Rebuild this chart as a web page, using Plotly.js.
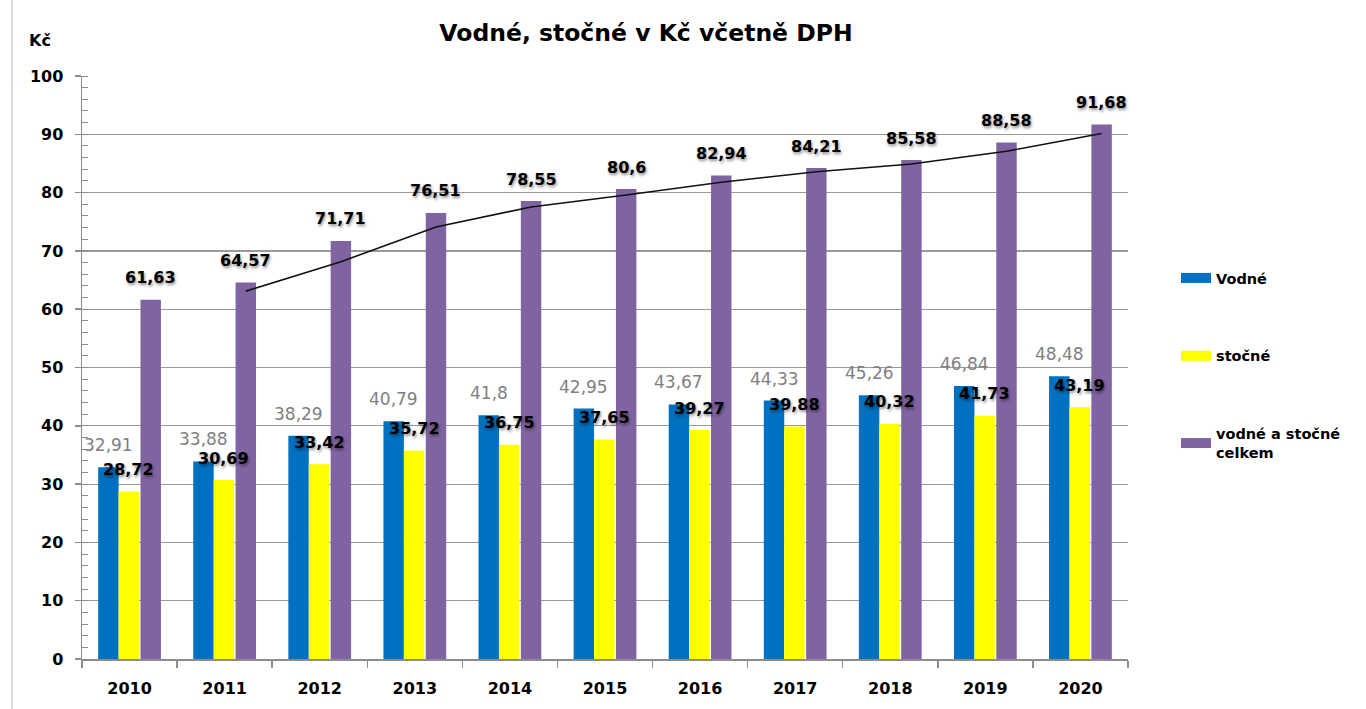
<!DOCTYPE html>
<html>
<head>
<meta charset="utf-8">
<script src="https://cdn.plot.ly/plotly-3.0.1.min.js"></script>
<style>
html,body{margin:0;padding:0;background:#fff;}
#chart{width:1366px;height:709px;}
</style>
</head>
<body>
<div id="chart"></div>
<script>
// ---- data ----
var years = [2010, 2011, 2012, 2013, 2014, 2015, 2016, 2017, 2018, 2019, 2020];
var vodne = [32.91, 33.88, 38.29, 40.79, 41.8, 42.95, 43.67, 44.33, 45.26, 46.84, 48.48];
var stocne = [28.72, 30.69, 33.42, 35.72, 36.75, 37.65, 39.27, 39.88, 40.32, 41.73, 43.19];
var celkem = [61.63, 64.57, 71.71, 76.51, 78.55, 80.6, 82.94, 84.21, 85.58, 88.58, 91.68];
// trend line (2-period moving average of total), years 2011-2020
var trendYears = [2011, 2012, 2013, 2014, 2015, 2016, 2017, 2018, 2019, 2020];
var trendVals = [63.10, 68.14, 74.11, 77.53, 79.58, 81.77, 83.58, 84.90, 87.08, 90.13];
var seriesNames = ['Vodné', 'stočné', 'vodné a stočné<br>celkem'];
var colors = ['#0070C0', '#FFFF00', '#8064A2'];

// ---- layout helpers ----
var BW = 0.215;
var offs = [-0.33, -0.115, 0.115];
function centerOf(k){ return offs[k] + BW/2; }
function fmt(v){ return String(v).replace('.', ','); }
var FONT = 'DejaVu Sans';

var traces = [];
var sets = [vodne, stocne, celkem];
for (var k = 0; k < 3; k++) {
  traces.push({
    type: 'bar', x: years, y: sets[k], width: BW, offset: offs[k],
    marker: {color: colors[k], line: {width: 0}},
    showlegend: false, hoverinfo: 'skip'
  });
}
traces.push({
  type: 'scatter', mode: 'lines',
  x: trendYears.map(function(y){ return y + centerOf(2); }),
  y: trendVals,
  line: {color: '#111111', width: 1.6},
  showlegend: false, hoverinfo: 'skip'
});
// legend entries
for (var k = 0; k < 3; k++) {
  traces.push({
    type: 'scatter', mode: 'lines', x: [null], y: [null],
    name: seriesNames[k], legendgroup: 'g' + k,
    line: {color: colors[k], width: 10}
  });
}

var annotations = [];
var shadowStyle = '1px 2px 3px rgba(0,0,0,0.45)';
for (var i = 0; i < years.length; i++) {
  annotations.push({
    x: years[i] + centerOf(0), y: vodne[i], xref: 'x', yref: 'y',
    text: fmt(vodne[i]), showarrow: false, yanchor: 'middle', yshift: 22,
    font: {family: FONT, size: 17, color: '#7f7f7f'}
  });
  annotations.push({
    x: years[i] + centerOf(1), y: stocne[i], xref: 'x', yref: 'y',
    text: fmt(stocne[i]), showarrow: false, yanchor: 'middle', yshift: 22,
    font: {family: FONT, size: 16, color: '#000', weight: 'bold', shadow: shadowStyle}
  });
  annotations.push({
    x: years[i] + centerOf(2), y: celkem[i], xref: 'x', yref: 'y',
    text: fmt(celkem[i]), showarrow: false, yanchor: 'middle', yshift: 22,
    font: {family: FONT, size: 16, color: '#000', weight: 'bold', shadow: shadowStyle}
  });
}
annotations.push({
  xref: 'paper', yref: 'paper', x: (40 - 82) / 1046, y: (659 - 40) / 583,
  text: 'Kč', showarrow: false, xanchor: 'center', yanchor: 'middle',
  font: {family: FONT, size: 16, color: '#000', weight: 'bold'}
});

var layout = {
  width: 1366, height: 709,
  margin: {l: 82, r: 238, t: 76, b: 50},
  paper_bgcolor: '#fff', plot_bgcolor: '#fff',
  font: {family: FONT, color: '#000'},
  title: {
    text: 'Vodné, stočné v Kč včetně DPH',
    xref: 'paper', x: (646 - 82) / 1046, xanchor: 'center',
    yref: 'container', y: 1 - 33 / 709, yanchor: 'middle',
    font: {family: FONT, size: 23.5, color: '#000', weight: 'bold'}
  },
  xaxis: {
    type: 'linear', range: [2009.5, 2020.5],
    tickvals: years, ticktext: years.map(String), ticks: '',
    ticklabelstandoff: 14,
    showgrid: false, zeroline: false,
    showline: true, linecolor: '#8c8c8c', linewidth: 1.5,
    tickfont: {family: FONT, size: 16, color: '#000', weight: 'bold'},
    minor: {tick0: 2009.5, dtick: 1, ticks: 'outside', ticklen: 7, tickcolor: '#8c8c8c', tickwidth: 1.5, showgrid: false}
  },
  yaxis: {
    range: [0, 100], dtick: 10, tick0: 0,
    showgrid: true, gridcolor: '#9a9a9a', gridwidth: 1.2,
    zeroline: false, showline: true, linecolor: '#8c8c8c', linewidth: 1.5,
    ticks: 'outside', ticklen: 6, tickcolor: '#8c8c8c', tickwidth: 1.5,
    ticklabelstandoff: 8,
    tickfont: {family: FONT, size: 16, color: '#000', weight: 'bold'},
    minor: {dtick: 2, ticks: 'inside', ticklen: 6, tickcolor: '#8c8c8c', tickwidth: 1, showgrid: false}
  },
  showlegend: true,
  legend: {
    x: (1176 - 82) / 1046, y: (659 - 262) / 583, xanchor: 'left', yanchor: 'top',
    xref: 'paper', yref: 'paper',
    bgcolor: 'rgba(0,0,0,0)', borderwidth: 0,
    tracegroupgap: 56, itemclick: false, itemdoubleclick: false,
    font: {family: FONT, size: 14.5, color: '#000', weight: 'bold'}
  },
  annotations: annotations,
  shapes: [{
    type: 'line', xref: 'paper', yref: 'paper',
    x0: (12 - 82) / 1046, x1: (12 - 82) / 1046, y0: -50 / 583, y1: (659) / 583,
    line: {color: '#d0d0d0', width: 1.5}
  }]
};

Plotly.newPlot('chart', traces, layout, {displayModeBar: false, staticPlot: true});
</script>
</body>
</html>
